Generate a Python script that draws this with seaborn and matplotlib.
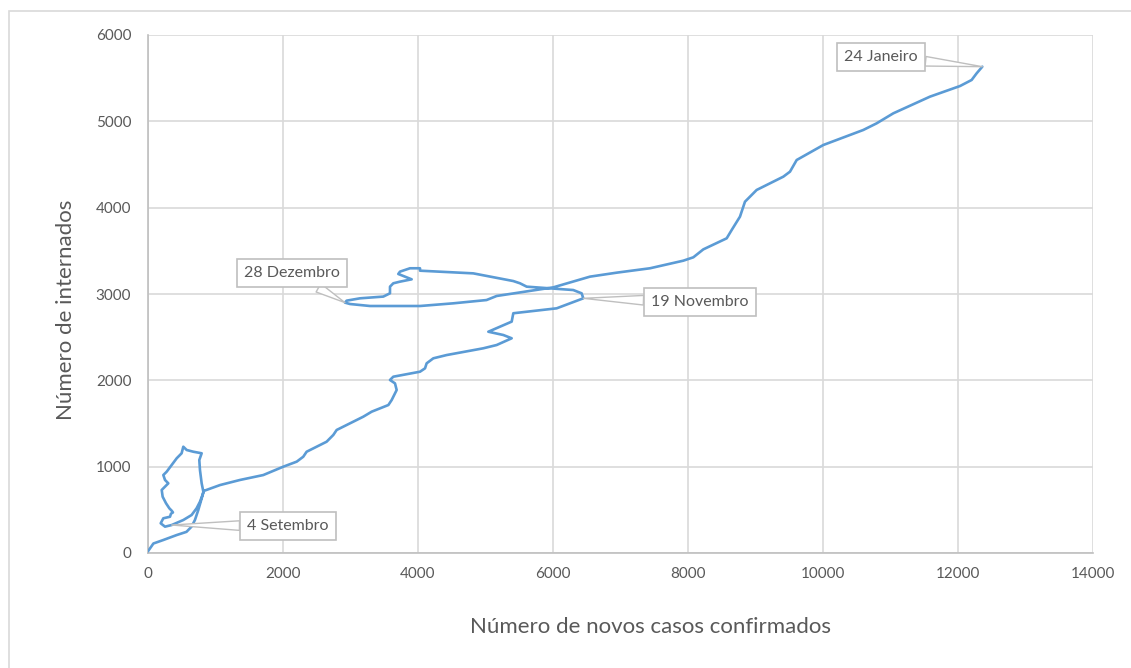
import matplotlib
matplotlib.use("Agg")
import matplotlib.pyplot as plt
from matplotlib.patches import Rectangle
import seaborn as sns
import pandas as pd

# ---- data ----
novos_casos = [
    0, 80, 225, 425, 570, 645, 695, 745, 780, 810, 820,
    795, 770, 760, 795, 672, 573, 523, 498, 425, 351, 277, 227, 252, 301, 252,
    203, 217, 267, 316, 351, 370, 340, 326, 227, 188, 252, 351,
    523, 646, 720, 770, 830,
    1067, 1363, 1708, 2005, 2203, 2300, 2350, 2646, 2745, 2795, 2993, 3190,
    3314, 3561, 3610, 3684, 3659, 3585, 3634, 4030, 4104, 4128, 4227, 4425,
    4967, 5165, 5388, 5264, 5042, 5215, 5388, 5412, 6054, 6449,
    6424, 6300, 5956, 5610, 5511, 5412, 4819, 4030, 4030, 3881, 3733, 3708,
    3906, 3733, 3634, 3585, 3585, 3486, 3141, 2943, 2918,
    2993, 3289, 4030, 4523, 5015, 5165, 6004, 6548, 6943, 7437, 7931, 8079,
    8227, 8573, 8647, 8770, 8844, 9017, 9412, 9511, 9610, 10005, 10597,
    10795, 11042, 11585, 12030, 12202, 12276, 12360,
]
internados = [
    20, 110, 150, 208, 245, 305, 382, 498, 594, 672, 710,
    807, 960, 1077, 1155, 1173, 1193, 1231, 1155, 1097, 1019, 942, 903, 846, 807, 768,
    730, 652, 576, 518, 490, 470, 455, 420, 402, 344, 305, 324,
    382, 440, 518, 594, 720,
    787, 846, 903, 1000, 1058, 1115, 1173, 1289, 1367, 1425, 1502, 1579,
    1637, 1714, 1772, 1888, 1965, 2004, 2042, 2100, 2139, 2197, 2255, 2293,
    2371, 2409, 2487, 2525, 2563, 2622, 2680, 2777, 2834, 2950,
    3008, 3046, 3066, 3085, 3124, 3150, 3239, 3270, 3298, 3298, 3259, 3232,
    3170, 3143, 3124, 3085, 3008, 2970, 2950, 2923, 2900,
    2884, 2861, 2861, 2892, 2930, 2977, 3077, 3201, 3247, 3298, 3386, 3425,
    3517, 3645, 3741, 3896, 4069, 4205, 4359, 4417, 4552, 4726, 4900,
    4977, 5093, 5286, 5409, 5479, 5556, 5633,
]

rotulos = ["4 Setembro", "28 Dezembro", "19 Novembro", "24 Janeiro"]
rotulo_x = [351, 2918, 6449, 12360]
rotulo_y = [324, 2900, 2950, 5633]
caixa_x = [2074, 2133, 8178, 10859]
caixa_y = [313, 3243, 2907, 5745]

x_ticks = [0, 2000, 4000, 6000, 8000, 10000, 12000, 14000]
y_ticks = [0, 1000, 2000, 3000, 4000, 5000, 6000]

# ---- style ----
sns.set_theme(style="white")
plt.rcParams["font.family"] = ["Lato", "DejaVu Sans"]

TXT = "#595959"
GRID = "#d9d9d9"
LINE = "#5b9bd5"

fig = plt.figure(figsize=(11.31, 6.68), dpi=100)
ax = fig.add_axes([148 / 1131, 1 - 553 / 668, 945 / 1131, 518 / 668])

# outer frame
fig.patches.append(Rectangle((9 / 1131, -0.02), 1.05, 1 - 11 / 668 + 0.02,
                             transform=fig.transFigure, fill=False,
                             edgecolor=GRID, linewidth=1.2, zorder=0))

df = pd.DataFrame({"casos": novos_casos, "internados": internados})
sns.lineplot(data=df, x="casos", y="internados", sort=False, estimator=None,
             color=LINE, linewidth=1.9, ax=ax, zorder=3)
for ln in ax.lines:
    ln.set_solid_joinstyle("round")
    ln.set_solid_capstyle("round")

ax.set_xlim(x_ticks[0], x_ticks[-1])
ax.set_ylim(y_ticks[0], y_ticks[-1])
ax.set_xticks(x_ticks)
ax.set_yticks(y_ticks)
ax.set_xticklabels([str(v) for v in x_ticks])
ax.set_yticklabels([str(v) for v in y_ticks])
ax.grid(True, color=GRID, linewidth=1.2)
ax.set_axisbelow(True)
for s in ["top", "right"]:
    ax.spines[s].set_visible(False)
for s in ["left", "bottom"]:
    ax.spines[s].set_color("#bfbfbf")
    ax.spines[s].set_linewidth(1.2)
ax.tick_params(axis="both", length=0, labelsize=11, colors=TXT, pad=10)
ax.tick_params(axis="y", pad=12)

ax.set_xlabel("Número de novos casos confirmados", fontsize=16, color=TXT)
ax.set_ylabel("Número de internados", fontsize=16, color=TXT)
ax.xaxis.set_label_coords((651 - 148) / 945, -(627 - 553) / 518)
ax.yaxis.set_label_coords(-(148 - 66) / 945, (553 - 310) / 518)
ax.xaxis.label.set_va("center")
ax.yaxis.label.set_va("center")

for lab, px, py, tx, ty in zip(rotulos, rotulo_x, rotulo_y, caixa_x, caixa_y):
    ax.annotate(lab, xy=(px, py), xytext=(tx, ty), textcoords="data",
                ha="center", va="center", fontsize=11.5, color=TXT, zorder=5,
                bbox=dict(boxstyle="square,pad=0.45", fc="white", ec="#bfbfbf", lw=1.2),
                arrowprops=dict(arrowstyle="wedge,tail_width=0.6,shrink_factor=0.5",
                                fc="white", ec="#bfbfbf", lw=1.0,
                                shrinkA=0, shrinkB=0))

fig.savefig("out.png", dpi=100)
